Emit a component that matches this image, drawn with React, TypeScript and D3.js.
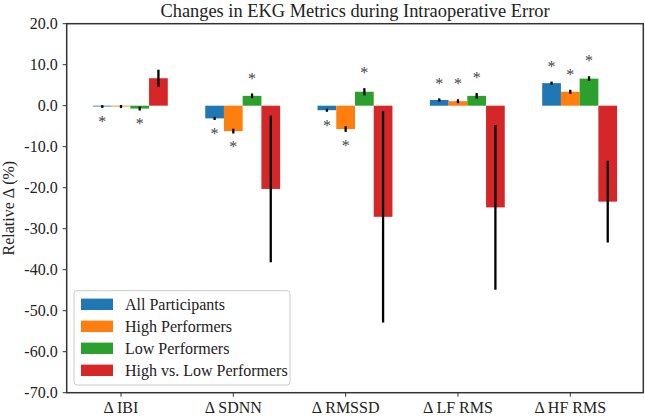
import React from 'react';
import * as d3 from 'd3';

// metrics on the x axis
const categories = ['Δ IBI', 'Δ SDNN', 'Δ RMSSD', 'Δ LF RMS', 'Δ HF RMS'];
const seriesNames = ['All Participants', 'High Performers', 'Low Performers', 'High vs. Low Performers'];
const seriesColors = ['#1f77b4', '#ff7f0e', '#2ca02c', '#d62728'];

// relative change (%)
const allParticipants = [-0.2, -3.1, -1.1, 1.4, 5.5];
const highPerformers = [-0.2, -6.2, -5.7, 1.1, 3.4];
const lowPerformers = [-0.7, 2.4, 3.4, 2.4, 6.6];
const highVsLow = [6.7, -20.3, -27.1, -24.8, -23.4];

// error bar half-lengths
const allErr = [0.05, 0.1, 0.1, 0.1, 0.1];
const highErr = [0.1, 0.3, 0.4, 0.2, 0.2];
const lowErr = [0.2, 0.3, 0.6, 0.4, 0.3];
const highVsLowErr = [1.8, 17.6, 25.5, 19.8, 9.7];

// significance markers (1 = asterisk)
const allSig = [1, 1, 1, 1, 1];
const highSig = [0, 1, 1, 1, 1];
const lowSig = [1, 1, 1, 1, 1];
const highVsLowSig = [0, 0, 0, 0, 0];

const yTicks = [20, 10, 0, -10, -20, -30, -40, -50, -60, -70];

const W = 645;
const H = 416;
const plot = { left: 66.7, right: 643.3, top: 23.7, bottom: 392.7 };
const barWidth = 1 / 6;
const font = '"Liberation Serif", "Times New Roman", serif';
const axisColor = '#333';

export default function App() {
  const series = [
    { values: allParticipants, err: allErr, sig: allSig },
    { values: highPerformers, err: highErr, sig: highSig },
    { values: lowPerformers, err: lowErr, sig: lowSig },
    { values: highVsLow, err: highVsLowErr, sig: highVsLowSig },
  ];

  const x = d3.scaleLinear().domain([-0.2 - 1.7 * barWidth, 4.2 + 2.7 * barWidth]).range([plot.left, plot.right]);
  const y = d3.scaleLinear().domain([-70, 20]).range([plot.bottom, plot.top]);
  const bw = x(barWidth) - x(0);

  return (
    <div style={{ position: 'absolute', left: 0, top: 0 }}>
      <svg width={W} height={H} style={{ display: 'block', background: '#fff' }} fontFamily={font}>
        {/* bars */}
        {series.map((s, si) =>
          s.values.map((v, ci) => {
            const cx = x(ci + (si - 1) * barWidth);
            return (
              <rect
                key={`b${si}-${ci}`}
                x={cx - bw / 2}
                y={Math.min(y(v), y(0))}
                width={bw}
                height={Math.abs(y(v) - y(0))}
                fill={seriesColors[si]}
              />
            );
          })
        )}
        {/* error bars */}
        {series.map((s, si) =>
          s.values.map((v, ci) => {
            const cx = x(ci + (si - 1) * barWidth);
            return (
              <line
                key={`e${si}-${ci}`}
                x1={cx}
                x2={cx}
                y1={y(v + s.err[ci])}
                y2={y(v - s.err[ci])}
                stroke="#000"
                strokeWidth={2.3}
                strokeLinecap="square"
              />
            );
          })
        )}
        {/* significance asterisks */}
        {series.map((s, si) =>
          s.values.map((v, ci) => {
            if (!s.sig[ci]) return null;
            const cx = x(ci + (si - 1) * barWidth);
            const cy = v >= 0 ? y(v + s.err[ci]) - 19 : y(v - s.err[ci]) + 12;
            return (
              <text key={`s${si}-${ci}`} x={cx} y={cy + 8} textAnchor="middle" fontSize={16} fill="#444">
                *
              </text>
            );
          })
        )}
        {/* frame */}
        <rect
          x={plot.left}
          y={plot.top}
          width={plot.right - plot.left}
          height={plot.bottom - plot.top}
          fill="none"
          stroke={axisColor}
          strokeWidth={1.5}
        />
        {/* y axis */}
        {yTicks.map((t) => (
          <g key={`yt${t}`}>
            <line x1={plot.left - 4} x2={plot.left} y1={y(t)} y2={y(t)} stroke={axisColor} strokeWidth={1} />
            <text x={plot.left - 9} y={y(t)} dy="0.33em" textAnchor="end" fontSize={16} fill="#222">
              {t.toFixed(1)}
            </text>
          </g>
        ))}
        {/* x axis */}
        {categories.map((c, ci) => (
          <g key={`xt${ci}`}>
            <line x1={x(ci)} x2={x(ci)} y1={plot.bottom} y2={plot.bottom + 4} stroke={axisColor} strokeWidth={1} />
            <text x={x(ci)} y={413} textAnchor="middle" fontSize={16} fill="#222">
              {c}
            </text>
          </g>
        ))}
        <text
          transform={`translate(14,${(plot.top + plot.bottom) / 2}) rotate(-90)`}
          textAnchor="middle"
          fontSize={16}
          fill="#222"
        >
          Relative Δ (%)
        </text>
        <text x={(plot.left + plot.right) / 2} y={16.5} textAnchor="middle" fontSize={18.4} fill="#222">
          Changes in EKG Metrics during Intraoperative Error
        </text>
        {/* legend */}
        <g>
          <rect x={74} y={290.7} width={216} height={94.3} rx={3} fill="#fff" fillOpacity={0.8} stroke="#ccc" strokeWidth={1} />
          {seriesNames.map((n, i) => (
            <g key={`l${i}`} transform={`translate(0,${304.3 + i * 22})`}>
              <rect x={81} y={-5.7} width={32} height={11.4} fill={seriesColors[i]} />
              <text x={125} y={5.5} fontSize={16} fill="#222">
                {n}
              </text>
            </g>
          ))}
        </g>
      </svg>
    </div>
  );
}
